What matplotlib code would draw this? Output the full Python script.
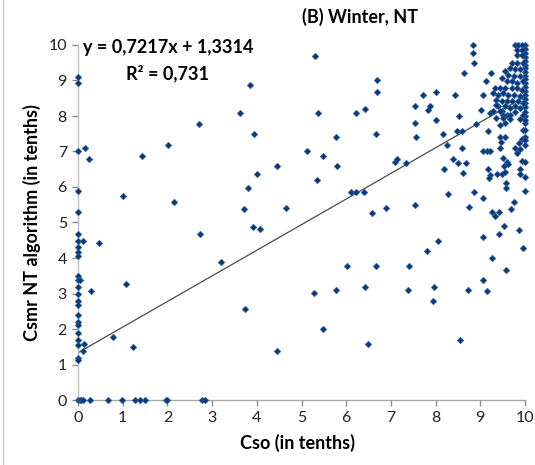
import matplotlib
matplotlib.use("Agg")
import matplotlib.pyplot as plt
from matplotlib.lines import Line2D
import numpy as np

# ---------------- data ----------------
# points on the Cso = 0 axis
zero_col_y = [9.10, 8.92, 7.00, 5.88, 5.30, 4.69, 4.49, 4.30, 4.18, 4.07, 3.49, 3.38,
              3.19, 2.98, 2.79, 2.69, 2.39, 2.21, 2.11, 1.88, 1.69, 1.55, 1.17, 1.14, 0.0]
# points on the Csmr = 0 axis
zero_row_x = [0.04, 0.06, 0.12, 0.27, 0.66, 0.99, 1.27, 1.38, 1.50, 1.96, 1.98, 2.78, 2.83]

low_x = [0.05, 0.16, 0.25, 0.11, 0.48, 0.29, 1.07, 1.00, 0.14, 0.12, 0.78, 1.24, 1.44, 2.01,
         2.15, 2.71, 2.73, 3.19, 3.62, 3.85, 3.94, 3.81, 4.01, 4.46, 3.72, 3.91, 4.07, 3.74,
         4.45, 4.65]
low_y = [3.38, 7.09, 6.78, 4.49, 4.41, 3.08, 3.27, 5.75, 1.58, 1.38, 1.77, 1.48, 6.88, 7.18,
         5.58, 7.77, 4.69, 3.89, 8.09, 8.86, 7.48, 5.98, 6.38, 6.59, 5.39, 4.88, 4.81, 2.57,
         1.38, 5.40]

mid_x = [5.30, 6.68, 6.68, 5.38, 6.22, 6.42, 5.77, 6.66, 5.13, 5.49, 5.80, 5.34, 6.11, 6.22,
         6.40, 6.57, 6.89, 7.54, 5.28, 5.77, 6.02, 6.41, 6.67, 5.47, 6.49, 7.41, 7.39, 7.80,
         8.05, 7.96, 7.95, 8.55, 8.72, 7.09, 7.13, 7.34, 7.54, 7.54, 7.56, 7.72, 7.87, 7.84,
         8.02, 8.02, 8.17, 8.25, 8.19, 8.28]
mid_y = [9.69, 9.00, 8.69, 8.09, 8.09, 8.19, 7.40, 7.48, 7.00, 6.88, 6.59, 6.20, 5.87, 5.87,
         5.87, 5.28, 5.40, 5.49, 3.02, 3.09, 3.78, 3.19, 3.78, 1.99, 1.58, 3.78, 3.09, 4.19,
         4.48, 3.19, 2.79, 1.69, 3.10, 6.70, 6.79, 6.69, 8.29, 7.79, 7.40, 8.59, 8.29, 8.17,
         8.69, 7.89, 7.49, 7.18, 6.50, 5.80]

high_x = [8.84, 8.84, 8.87, 8.64, 8.43, 9.05, 9.01, 9.12, 9.25, 8.53, 9.22, 8.47, 8.58, 9.17,
          8.90, 8.58, 8.40, 8.51, 8.68, 8.61, 9.07, 9.14, 9.22, 9.18, 9.22, 9.20, 8.87, 9.05,
          8.75, 9.05, 9.05, 9.14, 9.27]
high_y = [10.0, 9.77, 9.49, 9.21, 8.58, 8.58, 8.18, 8.98, 9.21, 8.00, 8.09, 7.59, 7.59, 7.59,
          7.77, 7.09, 6.78, 6.69, 6.69, 6.40, 7.00, 7.00, 7.00, 6.50, 6.34, 6.24, 5.86, 5.69,
          5.45, 4.59, 3.38, 3.08, 3.99]

right_x = [9.43, 9.44, 9.55, 9.46, 9.38, 9.48, 9.89, 9.89, 9.57, 9.57, 9.78, 9.81, 9.87, 9.89,
           9.93, 9.51, 9.59, 9.54, 9.63, 9.55, 9.93, 9.95, 9.75, 9.69, 9.26, 9.42, 9.34, 9.54,
           9.42, 9.87, 9.96, 9.57, 10.0, 10.0, 10.0, 10.0, 10.0, 10.0, 10.0, 10.0]
right_y = [7.09, 7.42, 7.42, 7.28, 6.38, 6.38, 6.50, 6.38, 6.12, 5.97, 7.09, 6.95, 7.23, 7.06,
           7.34, 6.81, 6.71, 6.59, 6.65, 6.43, 6.74, 7.61, 5.58, 5.39, 5.30, 5.30, 5.17, 4.89,
           4.69, 4.78, 4.28, 3.67, 7.61, 7.42, 7.32, 7.18, 6.71, 6.29, 5.89, 7.80]

ten_col_y = [10.0, 9.90, 9.78, 9.67, 9.56, 9.44, 9.34, 9.25, 9.13, 9.03, 8.92, 8.81, 8.70,
             8.59, 8.48, 8.36, 8.24, 8.12, 8.00, 7.90]

dense_x = [9.78, 9.85, 9.93, 9.81, 9.93, 9.81, 9.93, 9.70, 9.83, 9.95, 9.66, 9.78, 9.89, 9.55,
           9.63, 9.76, 9.88, 9.48, 9.59, 9.70, 9.83, 9.95, 9.33, 9.44, 9.55, 9.70, 9.81, 9.93,
           9.29, 9.40, 9.51, 9.63, 9.76, 9.89, 9.35, 9.48, 9.59, 9.70, 9.85, 9.95, 9.40, 9.55,
           9.66, 9.78, 9.89, 9.29, 9.48, 9.51, 9.59, 9.66, 9.66, 9.78, 9.89, 9.95, 9.35, 9.45,
           9.50, 9.35, 9.45, 9.55]
dense_y = [10.0, 10.0, 10.0, 9.87, 9.87, 9.73, 9.73, 9.49, 9.49, 9.49, 9.35, 9.31, 9.31, 9.26,
           9.16, 9.12, 9.12, 9.07, 8.98, 8.98, 8.93, 8.98, 8.79, 8.79, 8.79, 8.79, 8.79, 8.74,
           8.65, 8.60, 8.65, 8.58, 8.60, 8.55, 8.46, 8.41, 8.43, 8.41, 8.41, 8.37, 8.27, 8.27,
           8.23, 8.27, 8.23, 8.13, 8.13, 8.03, 8.03, 8.03, 7.91, 8.12, 7.91, 8.03, 8.30, 8.15,
           7.95, 7.95, 7.75, 7.80]

slope = 0.7217
intercept = 1.3314
r2 = 0.731

cso = ([0.0] * len(zero_col_y) + zero_row_x + low_x + mid_x + high_x + right_x
       + [10.0] * len(ten_col_y) + dense_x)
csmr = (zero_col_y + [0.0] * len(zero_row_x) + low_y + mid_y + high_y + right_y
        + ten_col_y + dense_y)

# ---------------- figure ----------------
W, H = 535, 465
fig = plt.figure(figsize=(W / 100, H / 100), dpi=100)
fig.patch.set_facecolor("white")
ax = fig.add_axes([78 / W, 1 - 400 / H, (525 - 78) / W, (400 - 45) / H])

font = ["Lato", "DejaVu Sans"]
tick_color = "#8c8c8c"

ax.scatter(cso, csmr, marker="D", s=12, color="#0b3a7a", edgecolors="#3a6fb0",
           linewidths=0.3, zorder=3, clip_on=False)

xs = np.array([0.0, 10.0])
ax.plot(xs, slope * xs + intercept, color="#4a4a4a", lw=0.9, zorder=2)

ax.set_xlim(0, 10)
ax.set_ylim(0, 10)
ax.set_xticks(range(0, 11))
ax.set_yticks(range(0, 11))

for s in ["top", "right"]:
    ax.spines[s].set_visible(False)
ax.spines["left"].set_color("#bfbfbf")
ax.spines["bottom"].set_color("#a6a6a6")
ax.spines["left"].set_linewidth(1.0)
ax.spines["bottom"].set_linewidth(1.0)
ax.tick_params(axis="both", direction="out", length=4, width=1, color=tick_color,
               labelsize=11.5, labelcolor="#222222", pad=4)
for lab in ax.get_xticklabels() + ax.get_yticklabels():
    lab.set_family(font)

# axis titles
fig.text(297 / W, 1 - 443 / H, "Cso (in tenths)", ha="center", va="center",
         fontsize=13, fontweight="bold", family=font)
fig.text(32 / W, 1 - 223 / H, "Csmr NT algorithm (in tenths)", ha="center", va="center",
         rotation=90, fontsize=13, fontweight="bold", family=font)

# chart title and trendline label
fig.text(360 / W, 1 - 17 / H, "(B) Winter, NT", ha="center", va="center",
         fontsize=13, fontweight="bold", family=font)
fig.text(83 / W, 1 - 48 / H,
         f"y = {str(slope).replace('.', ',')}x + {str(intercept).replace('.', ',')}",
         ha="left", va="center", fontsize=13, fontweight="bold", family=font)
fig.text(167 / W, 1 - 73 / H, f"R² = {str(r2).replace('.', ',')}", ha="center",
         va="center", fontsize=13, fontweight="bold", family=font)

# chart-area border visible on the left edge
fig.add_artist(Line2D([3 / W, 3 / W], [0, 1], transform=fig.transFigure,
                      color="#c8c8c8", lw=1))

fig.savefig("out.png", dpi=100)
